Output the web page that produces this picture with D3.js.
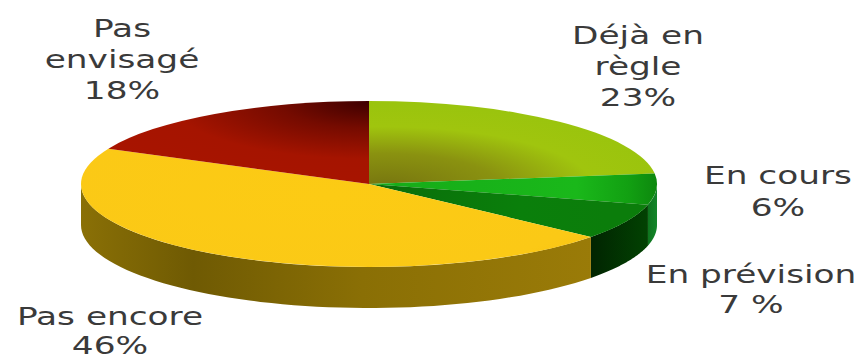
<!DOCTYPE html>
<html lang="fr">
<head>
<meta charset="utf-8">
<script src="https://cdn.jsdelivr.net/npm/d3@7"></script>
<style>
  html, body { margin: 0; background: #fff; }
  svg { display: block; }
  text { font-family: "DejaVu Sans", Verdana, sans-serif; fill: #3a3a3a; text-anchor: middle; }
</style>
</head>
<body>
<svg id="chart" width="862" height="360"></svg>
<script>
// Sectors in clockwise order from twelve o'clock
const categories = ["Déjà en règle", "En cours", "En prévision", "Pas encore", "Pas envisagé"];
const shares = [23, 6, 7, 46, 18];

const labelLines = [
  ["Déjà en", "règle", "23%"],
  ["En cours", "6%"],
  ["En prévision", "7 %"],
  ["Pas encore", "46%"],
  ["Pas", "envisagé", "18%"]
];
const labelCentres = [[638, 44], [778, 184], [751, 283], [110, 325], [122, 37]];
const labelGaps = [31, 32, 30, 29, 31];

const topColours = ["url(#topLime)", "url(#topBright)", "url(#topGreen)", "url(#topYellow)", "url(#topRed)"];
const wallColours = ["url(#wallBright)", "url(#wallBright)", "url(#wallDark)", "url(#wallOlive)", "url(#wallOlive)"];

const cx = 369, cy = 184, rx = 288, ry = 83, depth = 41;

const svg = d3.select("#chart");
const defs = svg.append("defs");

function radial(id, fx, fy, r, stops) {
  const g = defs.append("radialGradient").attr("id", id)
    .attr("gradientUnits", "userSpaceOnUse")
    .attr("cx", fx).attr("cy", fy).attr("fx", fx).attr("fy", fy).attr("r", r);
  stops.forEach(([o, c]) => g.append("stop").attr("offset", o).attr("stop-color", c));
}
function linear(id, x1, x2, stops) {
  const g = defs.append("linearGradient").attr("id", id)
    .attr("gradientUnits", "userSpaceOnUse")
    .attr("x1", x1).attr("x2", x2).attr("y1", 0).attr("y2", 0);
  stops.forEach(([o, c]) => g.append("stop").attr("offset", o).attr("stop-color", c));
}

// Top-face gradients live in the unscaled pie plane, centred on the hub
radial("topLime", 15, 10, 290, [[0, "#77750f"], [0.4, "#8a9210"], [0.72, "#a0c50e"], [1, "#9ac40d"]]);
radial("topRed", 0, -285, 300, [[0, "#3e0000"], [0.3, "#750b00"], [0.66, "#a51400"], [1, "#a81400"]]);
radial("topYellow", -40, 40, 340, [[0, "#fccb14"], [0.8, "#fbc916"], [1, "#f8c212"]]);
linear("topBright", 0, 288, [[0, "#16ab18"], [0.72, "#1ab81a"], [0.9, "#12a012"], [1, "#0d880e"]]);
linear("topGreen", 20, 240, [[0, "#0a6f0a"], [0.6, "#0a7f0b"], [1, "#0b7d0b"]]);

// Wall gradients run across the page
linear("wallOlive", 80, 592, [[0, "#8a7006"], [0.22, "#6f5a03"], [0.55, "#8a6f05"], [1, "#9a7b08"]]);
linear("wallDark", 592, 648, [[0, "#012501"], [1, "#024202"]]);
linear("wallBright", 645, 657, [[0, "#0d6d1a"], [1, "#13862a"]]);

const pie = d3.pie().sort(null).value(d => d)
  .startAngle(0).endAngle(2 * Math.PI);
const slices = pie(shares);

// Side walls: only the part of each sector facing the viewer is visible
const frontFrom = Math.PI / 2, frontTo = 3 * Math.PI / 2;
const rimX = a => cx + rx * Math.sin(a);
const rimY = a => cy - ry * Math.cos(a);
const outline = d3.line().x(d => d[0]).y(d => d[1]);

function wallPoints(s) {
  const a0 = Math.max(s.startAngle, frontFrom);
  const a1 = Math.min(s.endAngle, frontTo);
  if (a1 <= a0) return null;
  const angles = d3.range(0, 61).map(i => a0 + (a1 - a0) * i / 60);
  return [
    ...angles.map(a => [rimX(a), rimY(a)]),
    ...angles.slice().reverse().map(a => [rimX(a), rimY(a) + depth])
  ];
}

svg.append("g").selectAll("path")
  .data(slices.filter(wallPoints))
  .join("path")
  .attr("d", s => outline(wallPoints(s)) + "Z")
  .attr("fill", s => wallColours[s.index]);

// Top face: a circular pie squashed into an ellipse
const arc = d3.arc().innerRadius(0).outerRadius(rx);
svg.append("g")
  .attr("transform", `translate(${cx},${cy}) scale(1,${ry / rx})`)
  .selectAll("path")
  .data(slices)
  .join("path")
  .attr("d", arc)
  .attr("fill", s => topColours[s.index]);

// Sector captions, set wide
const captions = svg.append("g").selectAll("text")
  .data(labelLines.map((lines, i) => ({ lines, gap: labelGaps[i], at: labelCentres[i] })))
  .join("text")
  .attr("transform", d => `translate(${d.at[0]},${d.at[1]}) scale(1.43,1)`)
  .attr("font-size", 24);
captions.selectAll("tspan")
  .data(d => d.lines.map((line, i) => ({ line, y: i * d.gap })))
  .join("tspan")
  .attr("x", 0)
  .attr("y", d => d.y)
  .text(d => d.line);
</script>
</body>
</html>
